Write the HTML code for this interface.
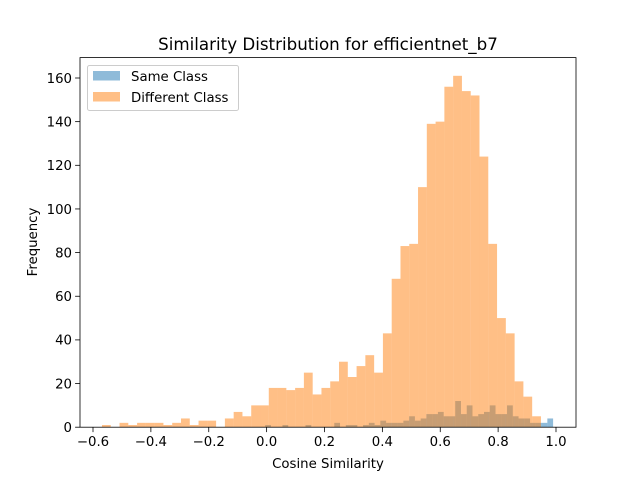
<!DOCTYPE html>
<html><head><meta charset="utf-8"><style>
body{margin:0;background:#fff}
svg{display:block;font-family:"DejaVu Sans","Liberation Sans",sans-serif}
</style></head><body>
<svg id="chart" width="640" height="480" viewBox="0 0 640 480" xmlns="http://www.w3.org/2000/svg">
<rect width="640" height="480" fill="#fff"/>
<g id="bars"></g>
<g id="axes"></g>
<text x="328" y="50" text-anchor="middle" font-size="16.7">Similarity Distribution for efficientnet_b7</text>
<text x="328" y="468" text-anchor="middle" font-size="13.3">Cosine Similarity</text>
<text transform="translate(37,242) rotate(-90)" text-anchor="middle" font-size="13.3">Frequency</text>
<g>
<rect x="87.5" y="65.5" width="151" height="45" rx="2" fill="#fff" fill-opacity="0.8" stroke="#ccc"/>
<rect x="93" y="71" width="27" height="9.5" fill="#1f77b4" fill-opacity="0.5"/>
<text x="131" y="81" font-size="13.3">Same Class</text>
<rect x="93" y="92" width="27" height="9.5" fill="#ff7f0e" fill-opacity="0.5"/>
<text x="131" y="102" font-size="13.3">Different Class</text>
</g>
</svg>
<script>
const diffStart = -0.569, diffEnd = 0.948;
const diffCounts = [1,0,2,1,2,2,2,1,2,4,1,3,3,0,4,7,5,10,10,18,18,17,18,25,15,18,21,30,23,28,33,25,43,68,83,84,110,139,140,156,161,154,152,124,84,50,43,21,14,5];
const sameStart = -0.005, sameEnd = 0.99;
const sameCounts = [1,0,0,1,0,0,0,1,0,0,0,0,2,0,1,1,0,1,2,1,3,2,2,2,3,5,3,4,6,6,7,5,5,12,6,10,5,6,7,10,6,6,10,5,4,4,2,2,2,4];
const xTicks = [-0.6,-0.4,-0.2,0.0,0.2,0.4,0.6,0.8,1.0];
const yTicks = [0,20,40,60,80,100,120,140,160];

const L=80,R=576,T=57.6,B=427.2;
const xs=v=>93+(v+0.6)*(463/1.6);
const ys=v=>B-v*(B-78)/160;
const NS="http://www.w3.org/2000/svg";
const bars=document.getElementById('bars'), axes=document.getElementById('axes');
function hist(start,end,counts,color,name){
  const w=(end-start)/counts.length;
  counts.forEach((c,i)=>{
    if(!c) return;
    const r=document.createElementNS(NS,'rect');
    const x0=xs(start+i*w),x1=xs(start+(i+1)*w);
    r.setAttribute('x',x0);r.setAttribute('width',x1-x0);
    r.setAttribute('y',ys(c));r.setAttribute('height',B-ys(c));
    r.setAttribute('fill',color);r.setAttribute('fill-opacity','0.5');
    
    
    bars.appendChild(r);
  });
}
hist(sameStart,sameEnd,sameCounts,'#1f77b4','same-class');
hist(diffStart,diffEnd,diffCounts,'#ff7f0e','different-class');
const frame=document.createElementNS(NS,'rect');
frame.setAttribute('x',L);frame.setAttribute('y',T);frame.setAttribute('width',R-L);frame.setAttribute('height',B-T);
frame.setAttribute('fill','none');frame.setAttribute('stroke','#000');frame.setAttribute('stroke-width','0.8');


axes.appendChild(frame);
xTicks.forEach(v=>{
  const x=xs(v);
  const l=document.createElementNS(NS,'line');
  l.setAttribute('x1',x);l.setAttribute('x2',x);l.setAttribute('y1',B);l.setAttribute('y2',B+4.9);
  l.setAttribute('stroke','#000');l.setAttribute('stroke-width','0.8');
  
  
  axes.appendChild(l);
  const t=document.createElementNS(NS,'text');
  t.setAttribute('x',x);t.setAttribute('y',B+19);t.setAttribute('text-anchor','middle');t.setAttribute('font-size','13.3');
  t.textContent=(v<0?'\u2212':'')+Math.abs(v).toFixed(1);
  
  
  axes.appendChild(t);
});
yTicks.forEach(v=>{
  const y=ys(v);
  const l=document.createElementNS(NS,'line');
  l.setAttribute('x1',L-4.9);l.setAttribute('x2',L);l.setAttribute('y1',y);l.setAttribute('y2',y);
  l.setAttribute('stroke','#000');l.setAttribute('stroke-width','0.8');
  
  
  axes.appendChild(l);
  const t=document.createElementNS(NS,'text');
  t.setAttribute('x',L-8);t.setAttribute('y',y+4.8);t.setAttribute('text-anchor','end');t.setAttribute('font-size','13.3');
  t.textContent=String(v);
  
  
  axes.appendChild(t);
});
</script>
</body></html>
